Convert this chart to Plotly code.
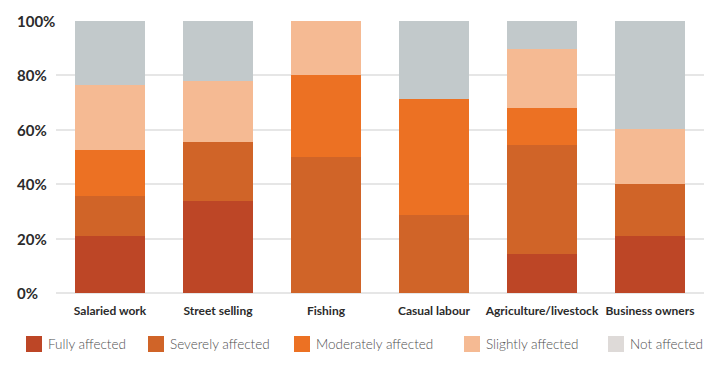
import plotly.graph_objects as go

categories = ["Salaried work", "Street selling", "Fishing", "Casual labour",
              "Agriculture/livestock", "Business owners"]
series_names = ["Fully affected", "Severely affected", "Moderately affected",
                "Slightly affected", "Not affected"]
fully = [20.8, 33.7, 0, 0, 14.2, 20.8]
severely = [14.7, 22.0, 50.0, 28.6, 40.3, 19.4]
moderately = [17.2, 0, 30.0, 42.8, 13.4, 0]
slightly = [23.9, 22.4, 20.0, 0, 21.8, 20.1]
not_affected = [23.4, 21.9, 0, 28.6, 10.3, 39.7]
y_ticks = [0, 20, 40, 60, 80, 100]
y_tick_labels = ["0%", "20%", "40%", "60%", "80%", "100%"]

bar_colors = ["#BD4626", "#D06428", "#EC7123", "#F5BA93", "#C2C9CB"]
legend_colors = ["#BD4626", "#D06428", "#EC7123", "#F5BA93", "#DEDAD8"]
series_values = [fully, severely, moderately, slightly, not_affected]

W, H = 716, 370
ML, MR, MT, MB = 56, 12, 21, 77
inner_w = W - ML - MR
inner_h = H - MT - MB

fig = go.Figure()
for name, vals, col in zip(series_names, series_values, bar_colors):
    fig.add_trace(go.Bar(x=categories, y=vals, name=name,
                         marker=dict(color=col, line=dict(width=0)),
                         showlegend=False))

shapes = []
annotations = []
# y tick labels, left-aligned as in the reference
for v, lab in zip(y_ticks, y_tick_labels):
    annotations.append(dict(xref="paper", yref="y", x=(15 - ML) / inner_w, y=v,
                            text=lab, showarrow=False, xanchor="left",
                            yanchor="middle",
                            font=dict(family="Lato", size=15, color="#2b2b2b",
                                      weight="bold")))

# manual legend (swatches + labels)
legend_sq_x = [26, 148, 294, 464, 608]
legend_y_px = 344
for name, col, sx in zip(series_names, legend_colors, legend_sq_x):
    shapes.append(dict(type="rect", xref="paper", yref="paper",
                       x0=(sx - ML) / inner_w, x1=(sx + 16 - ML) / inner_w,
                       y0=(H - MB - (legend_y_px + 8)) / inner_h,
                       y1=(H - MB - (legend_y_px - 8)) / inner_h,
                       fillcolor=col, line=dict(width=0)))
    annotations.append(dict(xref="paper", yref="paper",
                            x=(sx + 20 - ML) / inner_w,
                            y=(H - MB - legend_y_px) / inner_h,
                            text=name, showarrow=False, xanchor="left",
                            yanchor="middle",
                            font=dict(family="Lato", size=13.5, color="#505050",
                                      weight=300)))

fig.update_layout(
    width=W, height=H,
    margin=dict(l=ML, r=MR, t=MT, b=MB, autoexpand=False),
    barmode="stack", bargap=0.361,
    plot_bgcolor="white", paper_bgcolor="white",
    shapes=shapes, annotations=annotations,
    xaxis=dict(showgrid=False, showline=False, ticks="", automargin=False,
               ticklabelstandoff=9,
               tickfont=dict(family="Lato", size=12, color="#2b2b2b",
                             weight="bold")),
    yaxis=dict(range=[0, 100], tickvals=y_ticks, showticklabels=False,
               showgrid=True, gridcolor="#E6E6E6", gridwidth=1.5,
               zeroline=True, zerolinecolor="#E6E6E6", zerolinewidth=1.5,
               showline=False, ticks="", automargin=False),
)

fig.write_html("out.html", config={"displayModeBar": False},
               post_script="document.body.style.margin='0';"
                           "document.body.style.overflow='hidden';")
